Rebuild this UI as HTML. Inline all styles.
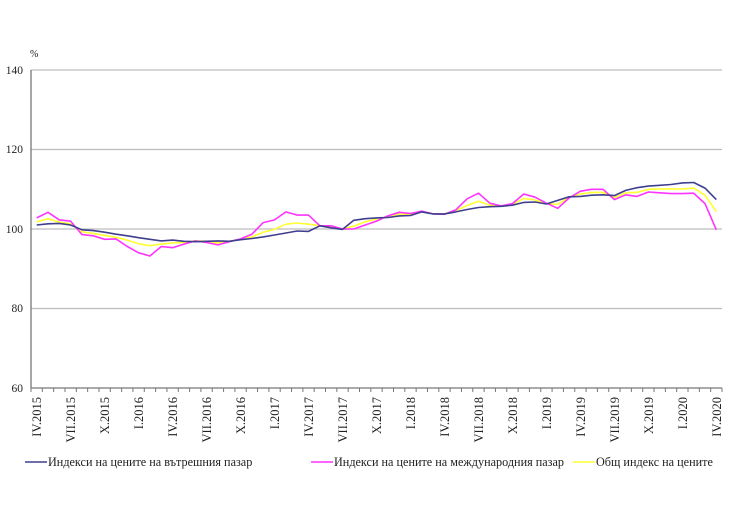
<!DOCTYPE html>
<html><head><meta charset="utf-8"><style>
body{margin:0;background:#fff;}
svg{display:block;font-family:"Liberation Serif",serif;}
</style></head><body>
<svg width="740" height="515" viewBox="0 0 740 515" xmlns="http://www.w3.org/2000/svg">
<g stroke="#bdbdbd" stroke-width="1.3">
<line x1="31" y1="70" x2="722" y2="70"/>
<line x1="31" y1="149.5" x2="722" y2="149.5"/>
<line x1="31" y1="229" x2="722" y2="229"/>
<line x1="31" y1="308.5" x2="722" y2="308.5"/>
</g>
<line x1="31" y1="70" x2="31" y2="388" stroke="#777" stroke-width="1.3"/>
<line x1="31" y1="388" x2="722" y2="388" stroke="#777" stroke-width="1.3"/>
<g id="ticks" stroke="#777" stroke-width="1"></g>
<g font-size="11.5" fill="#222" text-anchor="end">
<text x="23" y="74">140</text><text x="23" y="153">120</text><text x="23" y="233">100</text><text x="23" y="312">80</text><text x="23" y="392">60</text>
</g>
<text x="30" y="57" font-size="10" fill="#222">%</text>
<g id="xl" font-size="12.5" fill="#222"></g>
<g id="lines" fill="none" stroke-width="1.6" stroke-linejoin="round"></g>
<g font-size="12.2" fill="#222">
<line x1="25" y1="462" x2="47" y2="462" stroke="#3f3f8f" stroke-width="1.6"/>
<text x="48" y="466">Индекси на цените на вътрешния пазар</text>
<line x1="311" y1="462" x2="333" y2="462" stroke="#ff33ff" stroke-width="1.6"/>
<text x="334" y="466">Индекси на цените на международния пазар</text>
<line x1="573" y1="462" x2="595" y2="462" stroke="#ffff33" stroke-width="1.6"/>
<text x="596" y="466">Общ индекс на цените</text>
</g>
</svg>
<script>
var B=[101,101.3,101.4,101.0,99.8,99.6,99.2,98.7,98.3,97.8,97.4,97.0,97.2,96.9,96.8,96.9,97.0,96.9,97.3,97.6,98.0,98.5,99.0,99.5,99.4,100.8,100.3,99.9,102.2,102.6,102.8,102.9,103.3,103.4,104.3,103.8,103.8,104.3,104.9,105.4,105.6,105.7,106.0,106.7,106.8,106.3,107.2,108.1,108.2,108.5,108.6,108.4,109.7,110.4,110.8,111.0,111.2,111.6,111.7,110.3,107.4];
var P=[102.8,104.2,102.3,102.0,98.6,98.3,97.4,97.5,95.6,94.0,93.2,95.6,95.3,96.2,97.0,96.6,96.0,96.8,97.5,98.7,101.6,102.3,104.3,103.5,103.5,100.8,100.8,100.0,100.0,101.0,102.0,103.3,104.2,103.9,104.5,103.8,103.7,104.8,107.6,109.0,106.5,105.8,106.4,108.8,108.0,106.5,105.2,107.8,109.5,110.0,110.0,107.4,108.6,108.2,109.3,109.1,108.9,108.9,109.0,106.4,99.8];
var Y=[101.8,102.6,101.7,101.3,99.3,98.9,98.4,97.9,97.2,96.3,95.8,96.2,96.5,96.6,97.0,96.9,96.5,96.9,97.4,98.0,99.2,99.9,101.2,101.5,101.2,100.8,100.6,100.0,100.7,101.8,102.5,103.1,103.8,103.7,104.4,103.8,103.8,104.6,105.9,107.0,106.0,105.7,106.2,107.7,107.3,106.4,106.2,108.0,108.8,109.2,109.2,107.9,109.1,109.2,110.0,110.1,110.1,110.1,110.3,108.5,104.4];
var ns="http://www.w3.org/2000/svg",w=691/61;
function X(i){return 31+w*(i+0.5);}function V(v){return 229-(v-100)*3.975;}
var g=document.getElementById('lines');
[[Y,'#ffff33'],[P,'#ff33ff'],[B,'#3f3f8f']].forEach(function(s){var p=document.createElementNS(ns,'polyline');p.setAttribute('points',s[0].map(function(v,i){return X(i).toFixed(1)+','+V(v).toFixed(1)}).join(' '));p.setAttribute('stroke',s[1]);g.appendChild(p);});
var t=document.getElementById('ticks');
for(var i=0;i<=61;i++){var l=document.createElementNS(ns,'line');var x=31+w*i;l.setAttribute('x1',x);l.setAttribute('x2',x);l.setAttribute('y1',388);l.setAttribute('y2',392);t.appendChild(l);}
var labs=['IV','VII','X','I'],xl=document.getElementById('xl');
for(var k=0;k<=20;k++){var i=k*3;var yr=2015+Math.floor((i+3)/12);var txt=document.createElementNS(ns,'text');txt.textContent=labs[k%4]+'.'+yr;var x=X(i)+4.5,y=397;txt.setAttribute('transform','translate('+x+','+y+') rotate(-90)');txt.setAttribute('text-anchor','end');xl.appendChild(txt);}
</script>
</body></html>
